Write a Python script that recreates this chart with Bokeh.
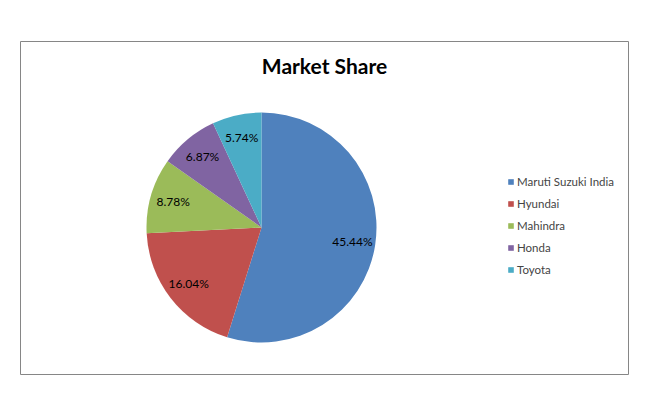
import math
from bokeh.plotting import figure
from bokeh.models import ColumnDataSource, Range1d, Label, Legend, LegendItem
from bokeh.core.properties import value
from bokeh.embed import file_html
from bokeh.resources import INLINE

categories = ["Maruti Suzuki India", "Hyundai", "Mahindra", "Honda", "Toyota"]
shares = [45.44, 16.04, 8.78, 6.87, 5.74]
labels = ["45.44%", "16.04%", "8.78%", "6.87%", "5.74%"]
colors = ["#4F81BD", "#C0504D", "#9BBB59", "#8064A2", "#4BACC6"]

FONT = "Lato"
W, H = 634, 404
ML, MT, MR, MB = 20, 41, 6, 30
FW, FH = W - ML - MR, H - MT - MB

cx, cy, R = 241, 147, 115

total = sum(shares)
starts, ends, lx, ly = [], [], [], []
cum = 0.0
for v in shares:
    a0 = math.pi / 2 - 2 * math.pi * cum / total
    cum += v
    a1 = math.pi / 2 - 2 * math.pi * cum / total
    starts.append(a0)
    ends.append(a1)
    mid = (a0 + a1) / 2
    lx.append(cx + 0.8 * R * math.cos(mid))
    ly.append(cy + 0.8 * R * math.sin(mid))

src = ColumnDataSource(dict(cat=categories, val=shares, lab=labels, color=colors,
                            start=starts, end=ends, lx=lx, ly=ly))

p = figure(width=W, height=H, output_backend="svg", toolbar_location=None,
           x_range=Range1d(0, FW), y_range=Range1d(0, FH),
           min_border_left=ML, min_border_top=MT, min_border_right=MR, min_border_bottom=MB)
p.axis.visible = False
p.grid.visible = False
p.outline_line_color = "#868686"
p.outline_line_width = 1
p.background_fill_color = "white"
p.border_fill_color = "white"

wr = p.wedge(x=cx, y=cy, radius=R, start_angle="start", end_angle="end", direction="clock",
             fill_color="color", line_color=None, source=src)

p.text(x="lx", y="ly", text="lab", source=src, text_align="center", text_baseline="middle",
       text_font=value(FONT), text_font_size="12px", text_color="black")

title = Label(x=FW / 2, y=FH - 24, text="Market Share", text_font=FONT,
              text_font_size="21px", text_font_style="bold", text_align="center",
              text_baseline="middle", text_color="black")
p.add_layout(title)

items = [LegendItem(label=c, renderers=[wr], index=i) for i, c in enumerate(categories)]
legend = Legend(items=items, location=(487, 98), padding=0, margin=0, spacing=9,
                label_height=12, glyph_height=7, glyph_width=7, label_standoff=3,
                label_text_font=FONT, label_text_font_size="11.5px", border_line_color=None,
                background_fill_alpha=0)
p.add_layout(legend)

open("out.html", "w").write(file_html(p, INLINE))
